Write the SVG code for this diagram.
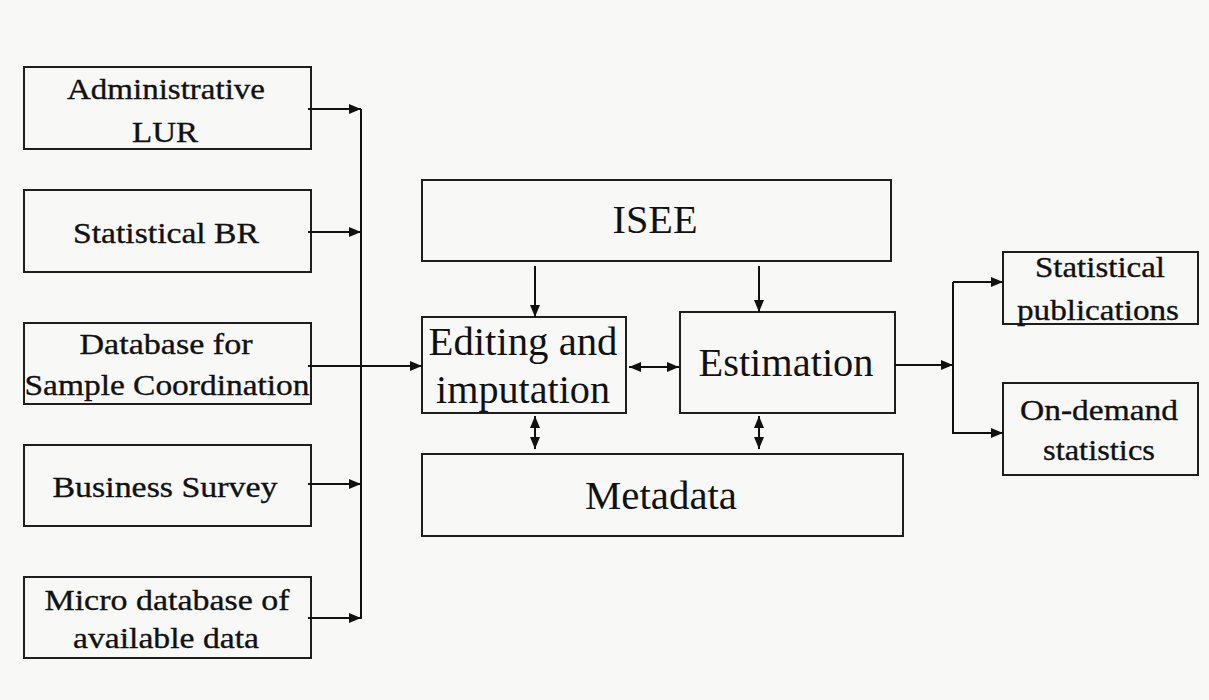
<svg xmlns="http://www.w3.org/2000/svg" width="1209" height="700" viewBox="0 0 1209 700">
  <style>
    .box { fill: none; stroke: #1e1e1e; stroke-width: 2; }
    .lbl { font-family: "Liberation Serif", "Times New Roman", serif; fill: #111; text-anchor: middle; }
    .sm { font-size: 30px; stroke: #111; stroke-width: 0.35; }
    .lg { font-size: 41px; }
    .wire { fill: none; stroke: #111; stroke-width: 2; }
    .one { marker-end: url(#head); }
    .two { marker-start: url(#head); marker-end: url(#head); }
  </style>
  <defs>
    <marker id="head" markerUnits="userSpaceOnUse" markerWidth="12" markerHeight="10" refX="12" refY="5" orient="auto-start-reverse">
      <path d="M0,0 L12,5 L0,10 z" fill="#111"/>
    </marker>
  </defs>

  <rect width="1209" height="700" fill="#f8f9f7"/>

  <!-- source registers and surveys -->
  <g id="admin-lur">
    <rect class="box" x="24" y="67" width="287" height="82"/>
    <text class="lbl sm" x="166" y="99" textLength="198" lengthAdjust="spacingAndGlyphs">Administrative</text>
    <text class="lbl sm" x="165" y="142" textLength="66" lengthAdjust="spacingAndGlyphs">LUR</text>
  </g>
  <g id="statistical-br">
    <rect class="box" x="24" y="190" width="287" height="82"/>
    <text class="lbl sm" x="166" y="243" textLength="186" lengthAdjust="spacingAndGlyphs">Statistical BR</text>
  </g>
  <g id="sample-coordination">
    <rect class="box" x="24" y="323" width="287" height="81"/>
    <text class="lbl sm" x="166" y="354" textLength="173" lengthAdjust="spacingAndGlyphs">Database for</text>
    <text class="lbl sm" x="167" y="395" textLength="285" lengthAdjust="spacingAndGlyphs">Sample Coordination</text>
  </g>
  <g id="business-survey">
    <rect class="box" x="24" y="445" width="287" height="81"/>
    <text class="lbl sm" x="165" y="497" textLength="225" lengthAdjust="spacingAndGlyphs">Business Survey</text>
  </g>
  <g id="micro-database">
    <rect class="box" x="24" y="577" width="287" height="81"/>
    <text class="lbl sm" x="167" y="610" textLength="245" lengthAdjust="spacingAndGlyphs">Micro database of</text>
    <text class="lbl sm" x="166" y="648" textLength="186" lengthAdjust="spacingAndGlyphs">available data</text>
  </g>

  <!-- processing core -->
  <g id="isee">
    <rect class="box" x="422" y="180" width="469" height="81"/>
    <text class="lbl lg" x="655" y="233" textLength="85" lengthAdjust="spacingAndGlyphs">ISEE</text>
  </g>
  <g id="editing">
    <rect class="box" x="422" y="317" width="204" height="96"/>
    <text class="lbl lg" x="523" y="355" textLength="189" lengthAdjust="spacingAndGlyphs">Editing and</text>
    <text class="lbl lg" x="523" y="403" textLength="174" lengthAdjust="spacingAndGlyphs">imputation</text>
  </g>
  <g id="estimation">
    <rect class="box" x="680" y="312" width="215" height="101"/>
    <text class="lbl lg" x="786" y="376" textLength="175" lengthAdjust="spacingAndGlyphs">Estimation</text>
  </g>
  <g id="metadata">
    <rect class="box" x="422" y="454" width="481" height="82"/>
    <text class="lbl lg" x="661" y="509" textLength="152" lengthAdjust="spacingAndGlyphs">Metadata</text>
  </g>

  <!-- outputs -->
  <g id="publications">
    <rect class="box" x="1003" y="252" width="195" height="72"/>
    <text class="lbl sm" x="1100" y="277" textLength="130" lengthAdjust="spacingAndGlyphs">Statistical</text>
    <text class="lbl sm" x="1098" y="320" textLength="162" lengthAdjust="spacingAndGlyphs">publications</text>
  </g>
  <g id="on-demand">
    <rect class="box" x="1003" y="383" width="195" height="92"/>
    <text class="lbl sm" x="1099" y="420" textLength="158" lengthAdjust="spacingAndGlyphs">On-demand</text>
    <text class="lbl sm" x="1099" y="460" textLength="112" lengthAdjust="spacingAndGlyphs">statistics</text>
  </g>

  <!-- connectors -->
  <g id="connectors">
    <path class="wire" d="M361,109 V619"/>
    <path class="wire one" d="M308,109 H361"/>
    <path class="wire one" d="M308,232 H361"/>
    <path class="wire one" d="M308,484 H361"/>
    <path class="wire one" d="M308,618 H361"/>
    <path class="wire one" d="M308,366 H422"/>
    <path class="wire one" d="M535,266 V317"/>
    <path class="wire one" d="M759,266 V312"/>
    <path class="wire two" d="M629,367 H679"/>
    <path class="wire two" d="M535,416 V449"/>
    <path class="wire two" d="M759,416 V449"/>
    <path class="wire one" d="M895,365 H953"/>
    <path class="wire" d="M953,282 V434"/>
    <path class="wire one" d="M953,282 H1003"/>
    <path class="wire one" d="M953,433 H1003"/>
  </g>
</svg>
